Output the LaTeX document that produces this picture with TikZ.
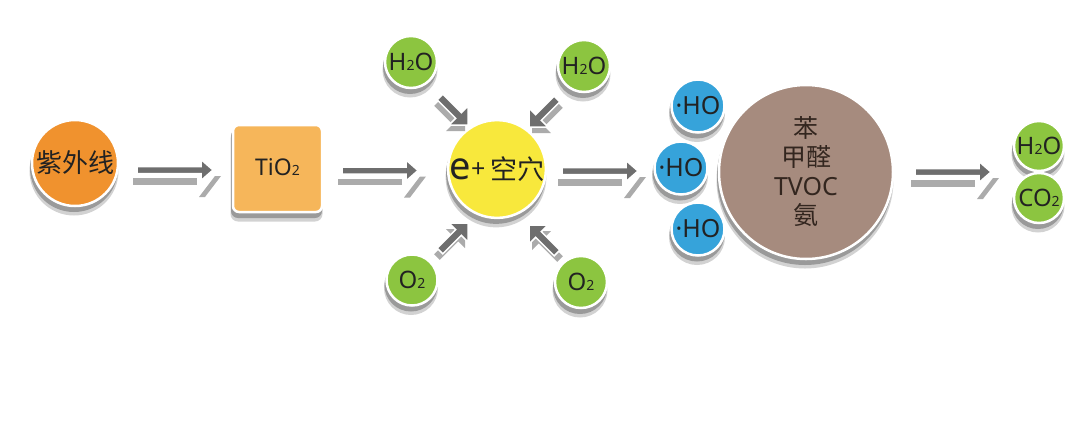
\documentclass[tikz,border=0pt]{standalone}
\usepackage{fontspec}
\newfontfamily\cjk{Noto Sans CJK SC}
\newfontfamily\lat{Noto Sans}
\definecolor{uvor}{HTML}{F0922E}
\definecolor{tiox}{HTML}{F6B65A}
\definecolor{holey}{HTML}{F8E83C}
\definecolor{grn}{HTML}{8CC540}
\definecolor{blu}{HTML}{36A3DA}
\definecolor{brn}{HTML}{A68B7E}
\definecolor{arrdark}{HTML}{6E6E6E}
\definecolor{arrlight}{HTML}{ABABAB}
\definecolor{shd}{HTML}{9A9A9A}
\definecolor{shl}{HTML}{D2D2D2}
\definecolor{txt}{HTML}{222222}
\definecolor{txtb}{HTML}{33261F}
\newcommand\subn[1]{{\fontsize{14}{14}\selectfont #1}}
\begin{document}
\begin{tikzpicture}[x=1pt,y=-1pt,
  shadowed/.style={
    preaction={fill=shl,draw=shl,line width=3pt,transform canvas={shift={(-1pt,-8pt)}}},
    preaction={fill=shd,draw=shd,line width=2pt,transform canvas={shift={(-1pt,-5pt)}}}},
  ball/.style={circle,inner sep=0pt,minimum size=#1,draw=white,line width=2.5pt,shadowed,text=txt},
  smallfont/.style={font=\lat\fontsize{24}{24}\selectfont},
  hofont/.style={font=\lat\fontsize{25}{25}\selectfont},
  harrow/.pic={
    \fill[arrlight] (-4,8) rectangle (60,14.5);
    \fill[arrlight] (62,27) -- (68,27) -- (84,6) -- (78,6) -- cycle;
    \filldraw[fill=arrdark,draw=white,line width=1.5pt] (0,-3.5) -- (64,-3.5) -- (64,-10.5) -- (76,0) -- (64,10.5) -- (64,3.5) -- (0,3.5) -- cycle;
  },
  pics/darrow/.style={code={
    \fill[arrlight,shift={(#1)}] (-25.2,-30.8) -- (-6.7,-12.3) -- (0,-19) -- (0,0) -- (-19,0) -- (-12.3,-6.7) -- (-30.8,-25.2) -- cycle;
    \filldraw[fill=arrdark,draw=white,line width=1.5pt] (-25.2,-30.8) -- (-6.7,-12.3) -- (0,-19) -- (0,0) -- (-19,0) -- (-12.3,-6.7) -- (-30.8,-25.2) -- cycle;
  }}
]
\useasboundingbox (0,0) rectangle (1080,432);

% nodes
\node[ball=86pt,fill=uvor,font=\cjk\fontsize{26}{26}\selectfont] (uv) at (75,163) {紫外线};
\node[rectangle,rounded corners=6pt,minimum width=89pt,minimum height=87pt,inner sep=0pt,
      fill=tiox,draw=white,line width=2.5pt,shadowed,text=txt,font=\lat\fontsize{23}{23}\selectfont]
      (tio2) at (277.5,168.5) {\raisebox{3pt}{TiO\subn{2}}};
\node[ball=52pt,fill=grn,smallfont] (h2oA) at (411,62) {H\subn{2}O};
\node[ball=52pt,fill=grn,smallfont] (h2oB) at (584,66) {H\subn{2}O};
\node[ball=94pt,fill=holey,font=\cjk\fontsize{27}{27}\selectfont] (hole) at (497,169)
      {{\lat\fontsize{38}{38}\selectfont e}{\lat\fontsize{25}{25}\selectfont\raisebox{2pt}{+}}\hspace{5pt}空穴};
\node[ball=51pt,fill=grn,smallfont] (o2A) at (412,280) {O\subn{2}};
\node[ball=52pt,fill=grn,smallfont] (o2B) at (581,282) {O\subn{2}};

\node[ball=53pt,fill=blu,hofont] (ho1) at (698,106) {·HO};
\node[ball=53pt,fill=blu,hofont] (ho2) at (681,168) {·HO};
\node[ball=53pt,fill=blu,hofont] (ho3) at (698,229) {·HO};
\node[ball=174pt,fill=brn,text=txtb,align=center,font=\cjk\fontsize{25}{29}\selectfont] (voc) at (806,172)
      {苯\\甲醛\\{\lat TVOC}\\氨};

\node[ball=50pt,fill=grn,smallfont] (outH) at (1039,146) {H\subn{2}O};
\node[ball=50pt,fill=grn,smallfont] (outC) at (1039,198) {CO\subn{2}};

% horizontal arrows
\pic at (137,170) {harrow};
\pic at (342,170.5) {harrow};
\pic at (562,171) {harrow};
\pic at (915,172) {harrow};

% diagonal arrows
\pic at (468,125) {darrow={-3,6}};
\pic[xscale=-1] at (529,127) {darrow={-3,6}};
\pic[yscale=-1] at (468,223) {darrow={-3,-6}};
\pic[xscale=-1,yscale=-1] at (529,225) {darrow={-3,-6}};
\end{tikzpicture}
\end{document}
